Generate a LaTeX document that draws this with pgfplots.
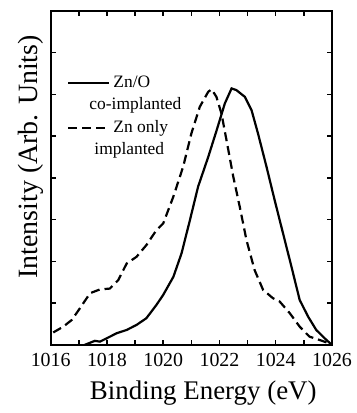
\documentclass[border=0pt]{standalone}
\usepackage{pgfplots}
\pgfplotsset{compat=1.18}
\usepackage{fontspec}
\setmainfont{Liberation Serif}
\begin{document}
\begin{tikzpicture}
\begin{axis}[
  scale only axis,
  width=281.3bp, height=334.3bp,
  xmin=1016, xmax=1026, ymin=0, ymax=8,
  xtick={1016,1018,...,1026},
  minor xtick={1017,1019,...,1025},
  ytick={1,2,...,7},
  yticklabels={},
  tick align=inside,
  major tick length=5bp, minor tick length=5bp,
  every tick/.style={line width=1.5bp, black},
  axis line style={line width=2.2bp},
  xticklabel style={font=\fontsize{20}{24}\selectfont, yshift=-5bp},
  /pgf/number format/assume math mode=true,
  /pgf/number format/set thousands separator={},
  xlabel={Binding Energy (eV)},
  ylabel={Intensity (Arb. Units)},
  every axis x label/.style={at={(axis description cs:0.5425,-0.1436)}, anchor=center, font=\fontsize{27}{32}\selectfont},
  every axis y label/.style={at={(axis description cs:-0.0711,0.563)}, anchor=center, rotate=90, font=\fontsize{28}{32}\selectfont},
  legend style={at={(axis description cs:0.058,0.808)}, anchor=north west, draw=none, fill=none, inner sep=0pt,
    font=\fontsize{17.5}{20}\selectfont, row sep=6.5bp, column sep=3bp,
    nodes={text height=12bp, text depth=4bp, inner sep=0pt}},
  legend cell align=left,
  legend image code/.code={\draw[#1] (0bp,0bp) -- (41bp,0bp);},
]
\addplot[black, line width=2.2bp, forget plot] table {
1017.2 0
1017.57 0.10
1017.75 0.08
1017.99 0.16
1018.34 0.28
1018.7 0.36
1019.05 0.48
1019.4 0.64
1019.76 0.96
1020.0 1.2
1020.36 1.63
1020.65 2.19
1020.95 2.99
1021.24 3.79
1021.6 4.5
1021.9 5.14
1022.19 5.78
1022.43 6.14
1022.6 6.1
1022.9 5.94
1023.14 5.62
1023.37 5.06
1023.67 4.27
1023.96 3.47
1024.26 2.67
1024.56 1.87
1024.85 1.08
1025.15 0.68
1025.44 0.36
1025.74 0.16
1026 0
};
\addplot[black, line width=2.2bp, dash pattern=on 9bp off 5bp, forget plot] table {
1016.09 0.30
1016.45 0.44
1016.75 0.60
1017.04 0.88
1017.4 1.24
1017.75 1.33
1018.1 1.35
1018.4 1.55
1018.7 1.95
1019.05 2.11
1019.4 2.39
1019.76 2.75
1020.0 2.91
1020.36 3.55
1020.71 4.27
1021.0 5.06
1021.3 5.70
1021.6 6.06
1021.72 6.12
1021.89 5.94
1022.07 5.54
1022.25 4.9
1022.49 4.03
1022.72 3.31
1022.96 2.51
1023.25 1.79
1023.55 1.32
1023.9 1.12
1024.14 1.04
1024.5 0.76
1024.85 0.44
1025.2 0.2
1025.56 0.12
1025.9 0.04
};
\addlegendimage{black, line width=2.2bp}
\addlegendentry{Zn/O}
\addlegendimage{empty legend}
\addlegendentry{\hspace*{-24bp}co-implanted}
\addlegendimage{black, line width=2.2bp, dash pattern=on 9bp off 5bp}
\addlegendentry{Zn only}
\addlegendimage{empty legend}
\addlegendentry{\hspace*{-19bp}implanted}
\end{axis}
\pgfresetboundingbox
\path (-50.7bp,-68bp) rectangle (306.3bp,345bp);
\end{tikzpicture}
\end{document}
